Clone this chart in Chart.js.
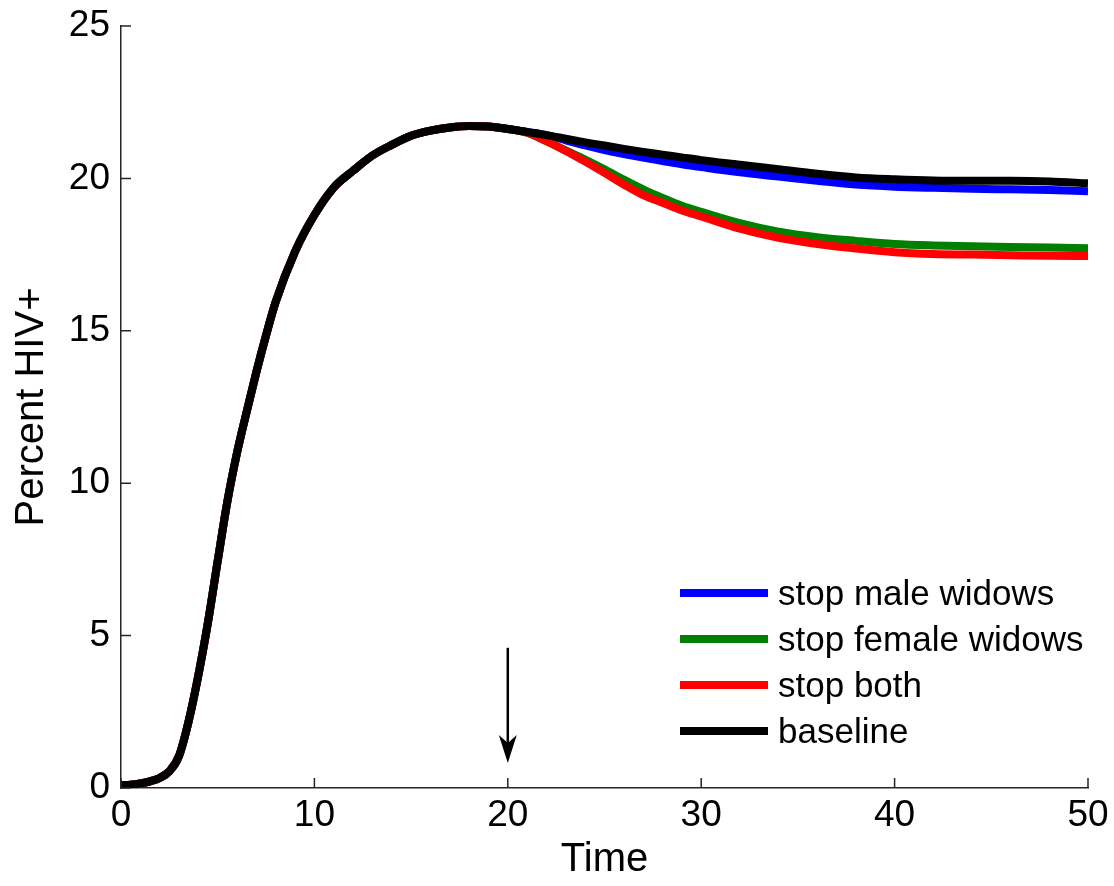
<!DOCTYPE html>
<html>
<head>
<meta charset="utf-8">
<title>Percent HIV+</title>
<script src="https://cdn.jsdelivr.net/npm/chart.js@4.4.1/dist/chart.umd.min.js"></script>
<style>
  html, body { margin: 0; padding: 0; background: #fff; }
  #wrap { width: 1114px; height: 886px; }
</style>
</head>
<body>
<div id="wrap"><canvas id="hivChart" width="1114" height="886"></canvas></div>
<script>
// time axis (years)
const time = [0, 0.5, 1, 1.5, 2, 2.5, 3, 3.5, 4, 4.5, 5, 5.5, 6, 6.5, 7, 7.5, 8, 9, 10, 11, 12, 13, 14, 15, 16, 17, 18, 19, 20,
              21, 22, 23, 24, 25, 26, 27, 28, 29, 30, 32, 34, 36, 38, 40, 42, 44, 46, 48, 50];

// same rise for every scenario until time 20
const rise = [0.10, 0.11, 0.15, 0.22, 0.33, 0.55, 1.05, 2.2, 3.7, 5.45, 7.45, 9.4, 11.0, 12.35, 13.65, 14.85, 15.95, 17.6, 18.8,
              19.7, 20.25, 20.75, 21.1, 21.4, 21.57, 21.67, 21.72, 21.7, 21.62];

// values after time 20 (t = 21 ... 50)
const baselineTail = [21.52, 21.42, 21.3, 21.18, 21.08, 20.97, 20.87, 20.78, 20.69, 20.6, 20.45, 20.3, 20.15, 20.03, 19.97, 19.93, 19.92, 19.92, 19.9, 19.84];
const maleTail     = [21.52, 21.42, 21.25, 21.08, 20.93, 20.8, 20.68, 20.57, 20.46, 20.37, 20.2, 20.06, 19.92, 19.8, 19.73, 19.69, 19.66, 19.64, 19.62, 19.58];
const femaleTail   = [21.5, 21.22, 20.92, 20.62, 20.3, 19.96, 19.64, 19.36, 19.1, 18.9, 18.53, 18.25, 18.07, 17.95, 17.85, 17.8, 17.77, 17.75, 17.73, 17.71];
const bothTail     = [21.5, 21.22, 20.9, 20.55, 20.18, 19.8, 19.45, 19.2, 18.95, 18.75, 18.35, 18.05, 17.85, 17.7, 17.58, 17.52, 17.5, 17.48, 17.46, 17.45];

const labels = ['stop male widows', 'stop female widows', 'stop both', 'baseline'];
const colors = ['#0000ff', '#007f00', '#ff0000', '#000000'];

const xTicks = [0, 10, 20, 30, 40, 50];
const yTicks = [0, 5, 10, 15, 20, 25];

// arrow marking the intervention time
const arrowTime = 20;
const arrowFrom = 4.6;
const arrowTo = 0.82;

const FONT = "'Liberation Sans', Arial, sans-serif";

function toPoints(tail) {
    const ys = rise.concat(tail);
    return time.map((t, i) => ({ x: t, y: ys[i] }));
}

const series = [maleTail, femaleTail, bothTail, baselineTail];

// black drawn on top, then red, green, blue
const drawOrder = [3, 2, 1, 0];

const datasets = series.map((tail, i) => ({
    label: labels[i],
    data: toPoints(tail),
    borderColor: colors[i],
    backgroundColor: colors[i],
    borderWidth: 8,
    pointRadius: 0,
    fill: false,
    cubicInterpolationMode: 'monotone',
    order: drawOrder[i]
}));

// tick marks pointing into the plot, like matlab
const innerTicks = {
    id: 'innerTicks',
    afterDraw(chart) {
        const ctx = chart.ctx;
        const xs = chart.scales.x, ys = chart.scales.y;
        const len = 10;
        ctx.save();
        ctx.strokeStyle = '#262626';
        ctx.lineWidth = 1.5;
        ctx.beginPath();
        xTicks.forEach(v => {
            const px = xs.getPixelForValue(v);
            ctx.moveTo(px, ys.bottom);
            ctx.lineTo(px, ys.bottom - len);
        });
        yTicks.forEach(v => {
            const py = ys.getPixelForValue(v);
            ctx.moveTo(xs.left, py);
            ctx.lineTo(xs.left + len, py);
        });
        ctx.stroke();
        ctx.restore();
    }
};

// legend drawn inside the plot, lower right
const insideLegend = {
    id: 'insideLegend',
    afterDraw(chart) {
        const ctx = chart.ctx;
        const x0 = 680, x1 = 768, tx = 778;
        ctx.save();
        ctx.font = '35px ' + FONT;
        ctx.textBaseline = 'middle';
        ctx.textAlign = 'left';
        chart.data.datasets.forEach((ds, i) => {
            const y = 593 + 46 * i;
            ctx.strokeStyle = ds.borderColor;
            ctx.lineWidth = 8;
            ctx.beginPath();
            ctx.moveTo(x0, y);
            ctx.lineTo(x1, y);
            ctx.stroke();
            ctx.fillStyle = '#000';
            ctx.fillText(ds.label, tx, y + 2);
        });
        ctx.restore();
    }
};

const arrowMark = {
    id: 'arrowMark',
    afterDraw(chart) {
        const ctx = chart.ctx;
        const px = chart.scales.x.getPixelForValue(arrowTime);
        const top = chart.scales.y.getPixelForValue(arrowFrom);
        const tip = chart.scales.y.getPixelForValue(arrowTo);
        ctx.save();
        ctx.strokeStyle = '#000';
        ctx.fillStyle = '#000';
        ctx.lineWidth = 2.5;
        ctx.beginPath();
        ctx.moveTo(px, top);
        ctx.lineTo(px, tip - 20);
        ctx.stroke();
        ctx.beginPath();
        ctx.moveTo(px, tip);
        ctx.lineTo(px - 9, tip - 28);
        ctx.lineTo(px, tip - 20);
        ctx.lineTo(px + 9, tip - 28);
        ctx.closePath();
        ctx.fill();
        ctx.restore();
    }
};

new Chart(document.getElementById('hivChart').getContext('2d'), {
    type: 'line',
    data: { datasets: datasets },
    options: {
        responsive: false,
        animation: false,
        layout: { padding: { top: 26, right: 26, left: 0, bottom: 0 } },
        plugins: {
            legend: { display: false },
            tooltip: { enabled: false }
        },
        scales: {
            x: {
                type: 'linear',
                min: 0,
                max: 50,
                afterBuildTicks: s => { s.ticks = xTicks.map(v => ({ value: v })); },
                afterFit: s => { s.height = 98; s.paddingRight = 0; s.paddingLeft = 0; },
                grid: { drawOnChartArea: false, drawTicks: false },
                border: { display: true, color: '#262626', width: 1.5 },
                ticks: { color: '#000', padding: 6, font: { family: FONT, size: 37 }, maxRotation: 0 },
                title: { display: true, text: 'Time', color: '#000', padding: { top: 0, bottom: 2 }, font: { family: FONT, size: 40 } }
            },
            y: {
                min: 0,
                max: 25,
                afterBuildTicks: s => { s.ticks = yTicks.map(v => ({ value: v })); },
                afterFit: s => { s.width = 121; s.paddingTop = 0; s.paddingBottom = 0; },
                grid: { drawOnChartArea: false, drawTicks: false },
                border: { display: true, color: '#262626', width: 1.5 },
                ticks: { color: '#000', padding: 11, font: { family: FONT, size: 37 } },
                title: { display: true, text: 'Percent HIV+', color: '#000', padding: { top: 8, bottom: 0 }, font: { family: FONT, size: 40 } }
            }
        }
    },
    plugins: [innerTicks, insideLegend, arrowMark]
});
</script>
</body>
</html>
